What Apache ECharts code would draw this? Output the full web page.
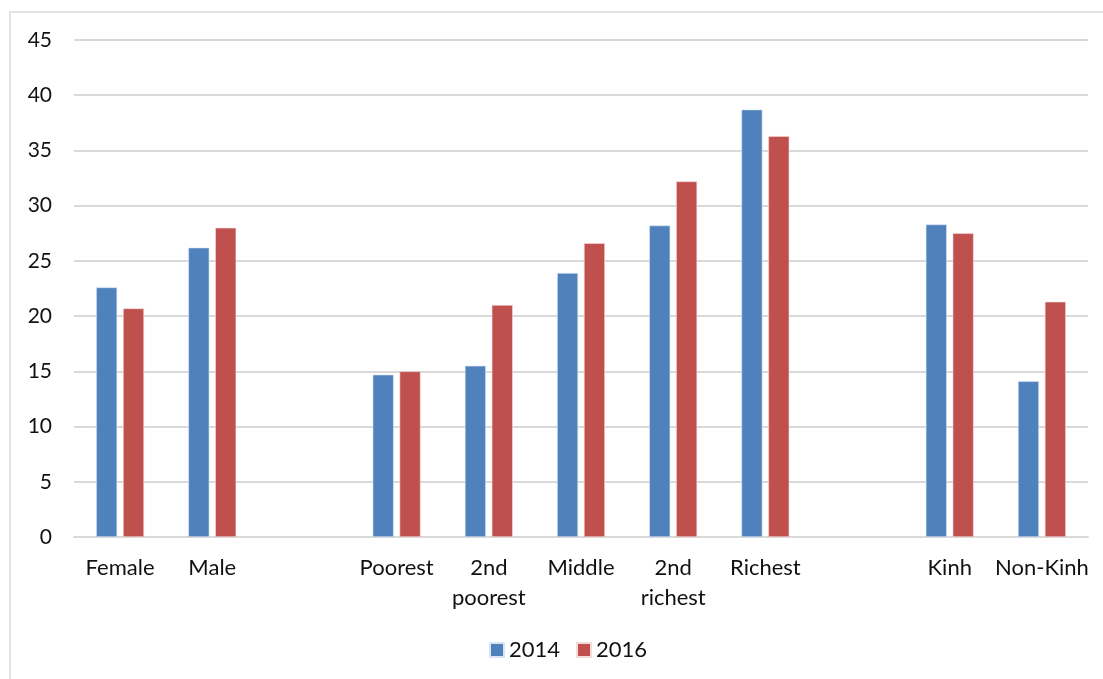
<!DOCTYPE html>
<html>
<head>
<meta charset="utf-8">
<script src="https://cdn.jsdelivr.net/npm/echarts@6/dist/echarts.min.js"></script>
<style>
  html, body { margin: 0; padding: 0; background: #fff; }
  #chart { width: 1103px; height: 679px; }
</style>
</head>
<body>
<div id="chart"></div>
<script>
// Group categories; empty entries leave gaps between the groups
const categories = ['Female', 'Male', '', 'Poorest', '2nd\npoorest', 'Middle', '2nd\nrichest', 'Richest', '', 'Kinh', 'Non-Kinh'];
const values2014 = [22.6, 26.2, null, 14.7, 15.5, 23.9, 28.2, 38.7, null, 28.3, 14.1];
const values2016 = [20.7, 28.0, null, 15.0, 21.0, 26.6, 32.2, 36.3, null, 27.5, 21.3];
const seriesNames = ['2014', '2016'];
const yTicks = { min: 0, max: 45, interval: 5 };

const FONT = 'Lato, "Open Sans", sans-serif';
const chart = echarts.init(document.getElementById('chart'));

chart.setOption({
  backgroundColor: '#fff',
  animation: false,
  graphic: [{
    type: 'rect',
    shape: { x: 10, y: 12, width: 1100, height: 700 },
    style: { fill: 'none', stroke: '#d9d9d9', lineWidth: 1.5 },
    silent: true
  }],
  grid: { left: 74, right: 15, top: 40, bottom: 142, containLabel: false },
  legend: {
    data: seriesNames,
    top: 634,
    left: 484,
    itemWidth: 14,
    itemHeight: 14,
    itemGap: 16,
    icon: 'rect',
    textStyle: { fontFamily: FONT, fontSize: 22, color: '#111' }
  },
  xAxis: {
    type: 'category',
    data: categories,
    axisLine: { lineStyle: { color: '#d9d9d9', width: 2 } },
    axisTick: { show: false },
    axisLabel: {
      interval: 0,
      margin: 16,
      fontFamily: FONT,
      fontSize: 22,
      lineHeight: 30,
      color: '#111'
    }
  },
  yAxis: {
    type: 'value',
    min: yTicks.min,
    max: yTicks.max,
    interval: yTicks.interval,
    axisLine: { show: false },
    axisTick: { show: false },
    splitLine: { lineStyle: { color: '#d9d9d9', width: 2 } },
    axisLabel: { margin: 22, fontFamily: FONT, fontSize: 21, color: '#111' }
  },
  series: [
    {
      name: seriesNames[0],
      type: 'bar',
      data: values2014,
      barWidth: 21,
      barGap: '28%',
      itemStyle: { color: '#4f81bd', borderColor: '#dbe5f1', borderWidth: 0.6 }
    },
    {
      name: seriesNames[1],
      type: 'bar',
      data: values2016,
      barWidth: 21,
      itemStyle: { color: '#c0504d', borderColor: '#f2dcdb', borderWidth: 0.6 }
    }
  ]
});
</script>
</body>
</html>
